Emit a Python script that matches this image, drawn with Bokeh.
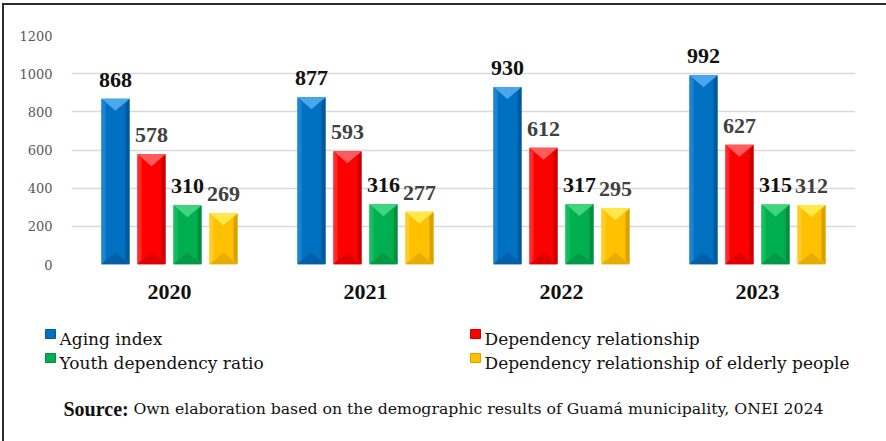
from bokeh.plotting import figure
from bokeh.layouts import column
from bokeh.models import ColumnDataSource, FixedTicker, Range1d, Label
from bokeh.core.properties import value
from bokeh.embed import file_html
from bokeh.resources import INLINE

# ---- data ----
years = ["2020", "2021", "2022", "2023"]
aging_index = [868, 877, 930, 992]
dependency_relationship = [578, 593, 612, 627]
youth_dependency = [310, 316, 317, 315]
elderly_dependency = [269, 277, 295, 312]

series_names = ["Aging index", "Dependency relationship",
                "Youth dependency ratio", "Dependency relationship of elderly people"]
y_ticks = [0, 200, 400, 600, 800, 1000, 1200]
source_head = "Source:"
source_text = "Own elaboration based on the demographic results of Guamá municipality, ONEI 2024"

SERIF_BOLD = "Liberation Serif"   # bold figures and year labels
SERIF = "DejaVu Serif"            # regular-weight text
INK = "#111111"

# ---- layout (page is 886 x 441, box rule on top/left) ----
W, H = 886, 441
OX, OY = 4, 5                 # content origin inside the ruled box
CW = W - OX
CHART_H = 300                 # chart part covers page y 5..305
LEG_H = H - OY - CHART_H

LEFT, RIGHT, TOP, BOTTOM = 71 - OX, 31, 35 - OY, (OY + CHART_H) - 264
frame_w = CW - LEFT - RIGHT
frame_h = CHART_H - TOP - BOTTOM
y_max = 1200

# colours: face, light top, left strip, dark right strip, bottom
palettes = [
    ("#0070C0", "#4BA6EC", "#1C84D6", "#00599C", "#005FA6"),
    ("#FF0000", "#FF5C5C", "#FF2A2A", "#CC0000", "#DD0000"),
    ("#00B050", "#40D47E", "#14BE5E", "#008E40", "#009A45"),
    ("#FFC000", "#FFE84A", "#FFCB26", "#D9A000", "#E6AC00"),
]
label_colors = [INK, "#404040", INK, "#404040"]

all_series = [aging_index, dependency_relationship, youth_dependency, elderly_dependency]

p = figure(width=CW, height=CHART_H, output_backend="svg", toolbar_location=None,
           x_range=Range1d(0, len(years)), y_range=Range1d(0, y_max),
           min_border_left=LEFT, min_border_right=RIGHT,
           min_border_top=TOP, min_border_bottom=BOTTOM,
           background_fill_color="white", border_fill_color="white")
p.outline_line_color = None

# pixel -> data conversion for the bevel details
px_x = 1.0 / (frame_w / len(years))
px_y = y_max / frame_h

bar_w = 28 * px_x
offsets = [-54 * px_x, -18 * px_x, 18 * px_x, 54 * px_x]
side = 4 * px_x
tri = 12 * px_y

centers = [i + 0.5 for i in range(len(years))]

for s, (vals, pal, off) in enumerate(zip(all_series, palettes, offsets)):
    face, light, lstrip, rstrip, bottom = pal
    xs = [c + off for c in centers]
    src = ColumnDataSource(dict(x=xs, top=vals, lbl=[str(v) for v in vals]))
    p.vbar(x="x", top="top", width=bar_w, bottom=0, source=src,
           fill_color=face, line_color=None)
    # bevel shading on each bar
    lx, rx, tx, bx = [], [], [], []
    lys, rys, tys, bys = [], [], [], []
    for x, v in zip(xs, vals):
        l, r = x - bar_w / 2, x + bar_w / 2
        lx.append([l, l + side, l + side, l])
        lys.append([0, tri * 0.4, v - tri * 0.4, v])
        rx.append([r, r - side, r - side, r])
        rys.append([0, tri * 0.4, v - tri * 0.4, v])
        tx.append([l, r, x])
        tys.append([v, v, v - tri])
        bx.append([l, r, x])
        bys.append([0, 0, tri])
    p.patches(lx, lys, fill_color=lstrip, line_color=None)
    p.patches(rx, rys, fill_color=rstrip, line_color=None)
    p.patches(bx, bys, fill_color=bottom, line_color=None)
    p.patches(tx, tys, fill_color=light, line_color=None)
    p.text(x="x", y="top", text="lbl", source=src,
           text_font=value(SERIF_BOLD), text_font_style="bold",
           text_font_size="22px", text_color=label_colors[s],
           text_align="center", text_baseline="bottom", y_offset=-12)

# axes
p.yaxis.ticker = FixedTicker(ticks=y_ticks)
p.yaxis.axis_line_color = None
p.yaxis.major_tick_line_color = None
p.yaxis.minor_tick_line_color = None
p.yaxis.major_label_text_font = SERIF
p.yaxis.major_label_text_font_size = "13px"
p.yaxis.major_label_text_color = "#595959"
p.yaxis.major_label_standoff = 13

p.xaxis.ticker = FixedTicker(ticks=centers)
p.xaxis.major_label_overrides = {c: y for c, y in zip(centers, years)}
p.xaxis.axis_line_color = None
p.xaxis.major_tick_line_color = None
p.xaxis.minor_tick_line_color = None
p.xaxis.major_label_text_font = SERIF_BOLD
p.xaxis.major_label_text_font_style = "bold"
p.xaxis.major_label_text_font_size = "22px"
p.xaxis.major_label_text_color = INK
p.xaxis.major_label_standoff = 14

p.xgrid.grid_line_color = None
p.ygrid.grid_line_color = "#D9D9D9"
p.ygrid.grid_line_width = 1.5
p.ygrid.ticker = FixedTicker(ticks=y_ticks)

# ---- legend and source note, in a pixel-space panel below the chart ----
y0 = OY + CHART_H
q = figure(width=CW, height=LEG_H, output_backend="svg", toolbar_location=None,
           x_range=Range1d(OX, W), y_range=Range1d(H, y0),
           x_axis_location=None, y_axis_location=None,
           min_border=0, background_fill_color="white", border_fill_color="white")
q.outline_line_color = None
q.xgrid.visible = False
q.ygrid.visible = False

# keep the two panels' frames independent of each other
for fig in (p, q):
    if "frame_align" in fig.properties():
        fig.frame_align = False

leg_x = [50, 475, 50, 475]        # swatch centres
leg_base = [338, 338, 362, 362]   # text baselines
q.rect(x=leg_x, y=[b - 4.5 for b in leg_base], width=10, height=9,
       fill_color=[pal[0] for pal in palettes],
       line_color=[pal[3] for pal in palettes], line_width=1)
for name, lx, lb in zip(series_names, leg_x, leg_base):
    q.add_layout(Label(x=lx + 9, y=lb, text=name, text_font=SERIF,
                       text_font_size="17px",
                       text_color=INK, text_baseline="alphabetic"))

q.add_layout(Label(x=63, y=408, text=source_head, text_font=SERIF_BOLD,
                   text_font_size="20px", text_font_style="bold",
                   text_color=INK, text_baseline="alphabetic"))
q.add_layout(Label(x=133, y=408, text=source_text, text_font=SERIF,
                   text_font_size="15.7px",
                   text_color=INK, text_baseline="alphabetic"))

page = column(p, q, spacing=0,
              styles={"border-top": "2px solid #2E2E2E",
                      "border-left": "2px solid #2E2E2E",
                      "margin-left": "2px", "margin-top": "3px"})

open("out.html", "w").write(file_html(page, INLINE))
